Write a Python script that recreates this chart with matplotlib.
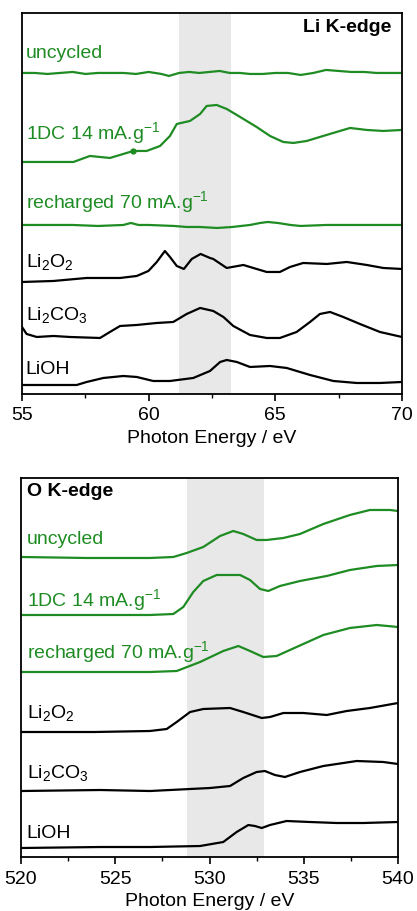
import matplotlib
matplotlib.use("Agg")
import matplotlib.pyplot as plt
from matplotlib.ticker import MultipleLocator

plt.rcParams["font.family"] = ["Liberation Sans", "DejaVu Sans"]
plt.rcParams["mathtext.default"] = "regular"

GREEN = "#1e8c23"
BAND = "#e8e8e8"

# ---------------- Li K-edge (offset intensities, a.u.) ----------------
li_uncycled_e = [55, 55.5, 56, 56.5, 57, 57.5, 58, 58.5, 59, 59.5, 60, 60.5, 60.8, 61.2,
                 61.6, 62, 62.4, 62.8, 63.2, 63.6, 64, 64.5, 65, 65.5, 66, 66.5, 67,
                 67.5, 68, 68.5, 69, 69.5, 70]
li_uncycled_i = [321, 321, 320, 321, 322, 320, 321, 321, 321, 320, 322, 320, 318, 321,
                 322, 321, 322, 323, 321, 321, 320, 320, 321, 321, 319, 321, 324,
                 323, 322, 322, 321, 321, 321]

li_1dc_e = [55.0, 57.03, 57.68, 58.47, 59.13, 59.39, 59.92, 60.45, 60.84, 61.11, 61.63,
            62.03, 62.29, 62.68, 63.08, 63.61, 64.26, 64.79, 65.31, 65.71, 66.24,
            66.89, 67.55, 67.95, 68.61, 69.26, 70.0]
li_1dc_i = [232, 232, 238, 236, 241, 243, 243, 248, 258, 270, 273,
            280, 288, 289, 285, 277, 267, 258, 252, 251, 253,
            258, 263, 266, 264, 263, 264]

li_rech_e = [55, 56, 57, 58, 59, 59.3, 59.6, 60, 61, 61.5, 62, 62.7, 63.3, 64, 64.4,
             64.7, 65.1, 65.6, 66, 67, 68, 69, 70]
li_rech_i = [169, 169, 169, 168, 169, 171, 169, 169, 168, 167, 167, 166, 167, 169, 171,
             172, 171, 169, 168, 169, 169, 169, 169]

li_li2o2_e = [55.0, 56.24, 57.55, 58.87, 59.53, 59.99, 60.32, 60.64, 60.84, 61.11, 61.39,
              61.70, 62.05, 62.42, 62.55, 63.08, 63.74, 64.13, 64.66, 65.18, 65.58,
              66.10, 67.03, 67.82, 68.61, 69.26, 70.0]
li_li2o2_i = [112, 113, 116, 116, 118, 123, 132, 143, 137, 128, 125,
              135, 140, 136, 135, 126, 129, 126, 122, 122, 127,
              131, 130, 132, 129, 126, 125]

li_li2co3_e = [55.0, 55.18, 55.58, 56.24, 56.89, 58.08, 58.47, 58.87, 59.53, 60.32, 60.97,
               61.50, 62.03, 62.55, 62.95, 63.34, 64.0, 64.66, 65.18, 65.84, 66.37,
               66.76, 67.16, 67.68, 68.34, 69.13, 70.0]
li_li2co3_i = [67, 60, 57, 58, 57, 56, 62, 68, 69, 71, 72,
               80, 86, 83, 77, 68, 59, 56, 56, 62, 72,
               80, 82, 77, 70, 62, 57]

li_lioh_e = [55.0, 57.16, 57.55, 58.21, 59.0, 59.53, 60.18, 60.84, 61.76, 62.42, 62.82,
             63.08, 63.48, 64.0, 64.79, 65.45, 66.37, 67.29, 68.21, 69.13, 70.0]
li_lioh_i = [9, 9, 12, 16, 18, 17, 13, 13, 16, 23, 32,
             34, 32, 27, 28, 26, 19, 13, 11, 11, 12]

# ---------------- O K-edge ----------------
o_uncycled_e = [520, 523.5, 526.84, 528.08, 528.79, 529.67, 530.56, 531.26, 531.79, 532.50,
                533.03, 533.92, 534.80, 536.04, 537.45, 538.51, 539.58, 540]
o_uncycled_i = [300, 299, 299, 300, 304, 310, 321, 326, 323, 317,
                317, 319, 323, 333, 342, 347, 347, 346]

o_1dc_e = [520, 523.5, 526.84, 528.08, 528.61, 529.14, 529.67, 530.38, 531.62, 532.15,
           532.68, 533.12, 533.74, 534.80, 536.22, 537.45, 538.87, 540]
o_1dc_i = [242, 242, 242, 243, 250, 265, 276, 282, 282, 277,
           268, 266, 271, 276, 281, 287, 291, 292]

o_rech_e = [520, 523.5, 526.84, 528.26, 529.50, 530.73, 531.53, 532.15, 532.85, 533.56,
            534.62, 536.04, 537.45, 538.87, 540]
o_rech_i = [185, 185, 185, 186, 195, 206, 211, 206, 200, 201,
            210, 222, 229, 232, 230]

o_li2o2_e = [520, 523.9, 526.84, 527.73, 528.26, 528.97, 529.67, 531.09, 531.79, 532.77,
             533.21, 533.92, 534.98, 536.22, 537.28, 538.51, 540]
o_li2o2_i = [125, 125, 126, 128, 135, 145, 148, 149, 145, 139,
             140, 144, 144, 142, 146, 149, 154]

o_li2co3_e = [520, 524.2, 526.84, 530.03, 531.09, 531.79, 532.50, 532.94, 533.47, 534.0,
              534.80, 536.04, 537.81, 539.22, 540]
o_li2co3_i = [66, 67, 66, 69, 71, 79, 85, 86, 82, 80, 85, 91, 96, 95, 93]

o_lioh_e = [520, 524.2, 526.84, 529.50, 530.73, 531.44, 532.06, 532.41, 532.77, 533.21,
            534.09, 535.33, 536.75, 538.16, 540]
o_lioh_i = [9, 10, 10, 11, 15, 25, 32, 31, 29, 32, 36, 35, 34, 34, 35]

labels = ["uncycled", "1DC 14 mA.g$^{-1}$", "recharged 70 mA.g$^{-1}$",
          "Li$_2$O$_2$", "Li$_2$CO$_3$", "LiOH"]
label_colors = [GREEN, GREEN, GREEN, "black", "black", "black"]
li_label_y = [341, 262, 193, 133, 80, 25]
o_label_y = [318, 258, 206, 145, 85, 25]

fig = plt.figure(figsize=(4.17, 9.12), dpi=100)
ax1 = fig.add_axes([0.0528, 0.5669, 0.9112, 0.4178])
ax2 = fig.add_axes([0.0504, 0.0592, 0.9040, 0.4156])


def style(ax, xlim, major, minor, ylim):
    ax.set_xlim(*xlim)
    ax.set_ylim(*ylim)
    ax.xaxis.set_major_locator(MultipleLocator(major))
    ax.xaxis.set_minor_locator(MultipleLocator(minor))
    ax.tick_params(axis="x", which="major", direction="out", length=5, width=1.2,
                   labelsize=14, pad=4)
    ax.tick_params(axis="x", which="minor", direction="out", length=3, width=1.0)
    ax.set_yticks([])
    for s in ax.spines.values():
        s.set_linewidth(1.3)
    ax.set_xlabel("Photon Energy / eV", fontsize=14, labelpad=4)


# top panel
ax1.axvspan(61.2, 63.25, color=BAND, lw=0, zorder=0)
li_series = [(li_uncycled_e, li_uncycled_i), (li_1dc_e, li_1dc_i), (li_rech_e, li_rech_i),
             (li_li2o2_e, li_li2o2_i), (li_li2co3_e, li_li2co3_i), (li_lioh_e, li_lioh_i)]
for (e, i), c in zip(li_series, label_colors):
    ax1.plot(e, i, color=c, lw=1.6)
ax1.plot(li_1dc_e[5], li_1dc_i[5], "o", color=GREEN, ms=3.5)
for lab, y, c in zip(labels, li_label_y, label_colors):
    ax1.text(55.15, y, lab, color=c, fontsize=14, va="center", ha="left")
ax1.text(69.6, 367, "Li K-edge", fontsize=14, fontweight="bold", ha="right", va="center")
style(ax1, (55, 70), 5, 2.5, (0, 381))

# bottom panel
ax2.axvspan(528.8, 532.9, color=BAND, lw=0, zorder=0)
o_series = [(o_uncycled_e, o_uncycled_i), (o_1dc_e, o_1dc_i), (o_rech_e, o_rech_i),
            (o_li2o2_e, o_li2o2_i), (o_li2co3_e, o_li2co3_i), (o_lioh_e, o_lioh_i)]
for (e, i), c in zip(o_series, label_colors):
    ax2.plot(e, i, color=c, lw=1.6)
for lab, y, c in zip(labels, o_label_y, label_colors):
    ax2.text(520.3, y, lab, color=c, fontsize=14, va="center", ha="left")
ax2.text(520.3, 366, "O K-edge", fontsize=14, fontweight="bold", ha="left", va="center")
style(ax2, (520, 540), 5, 2.5, (0, 379))

fig.savefig("out.png", dpi=100)
